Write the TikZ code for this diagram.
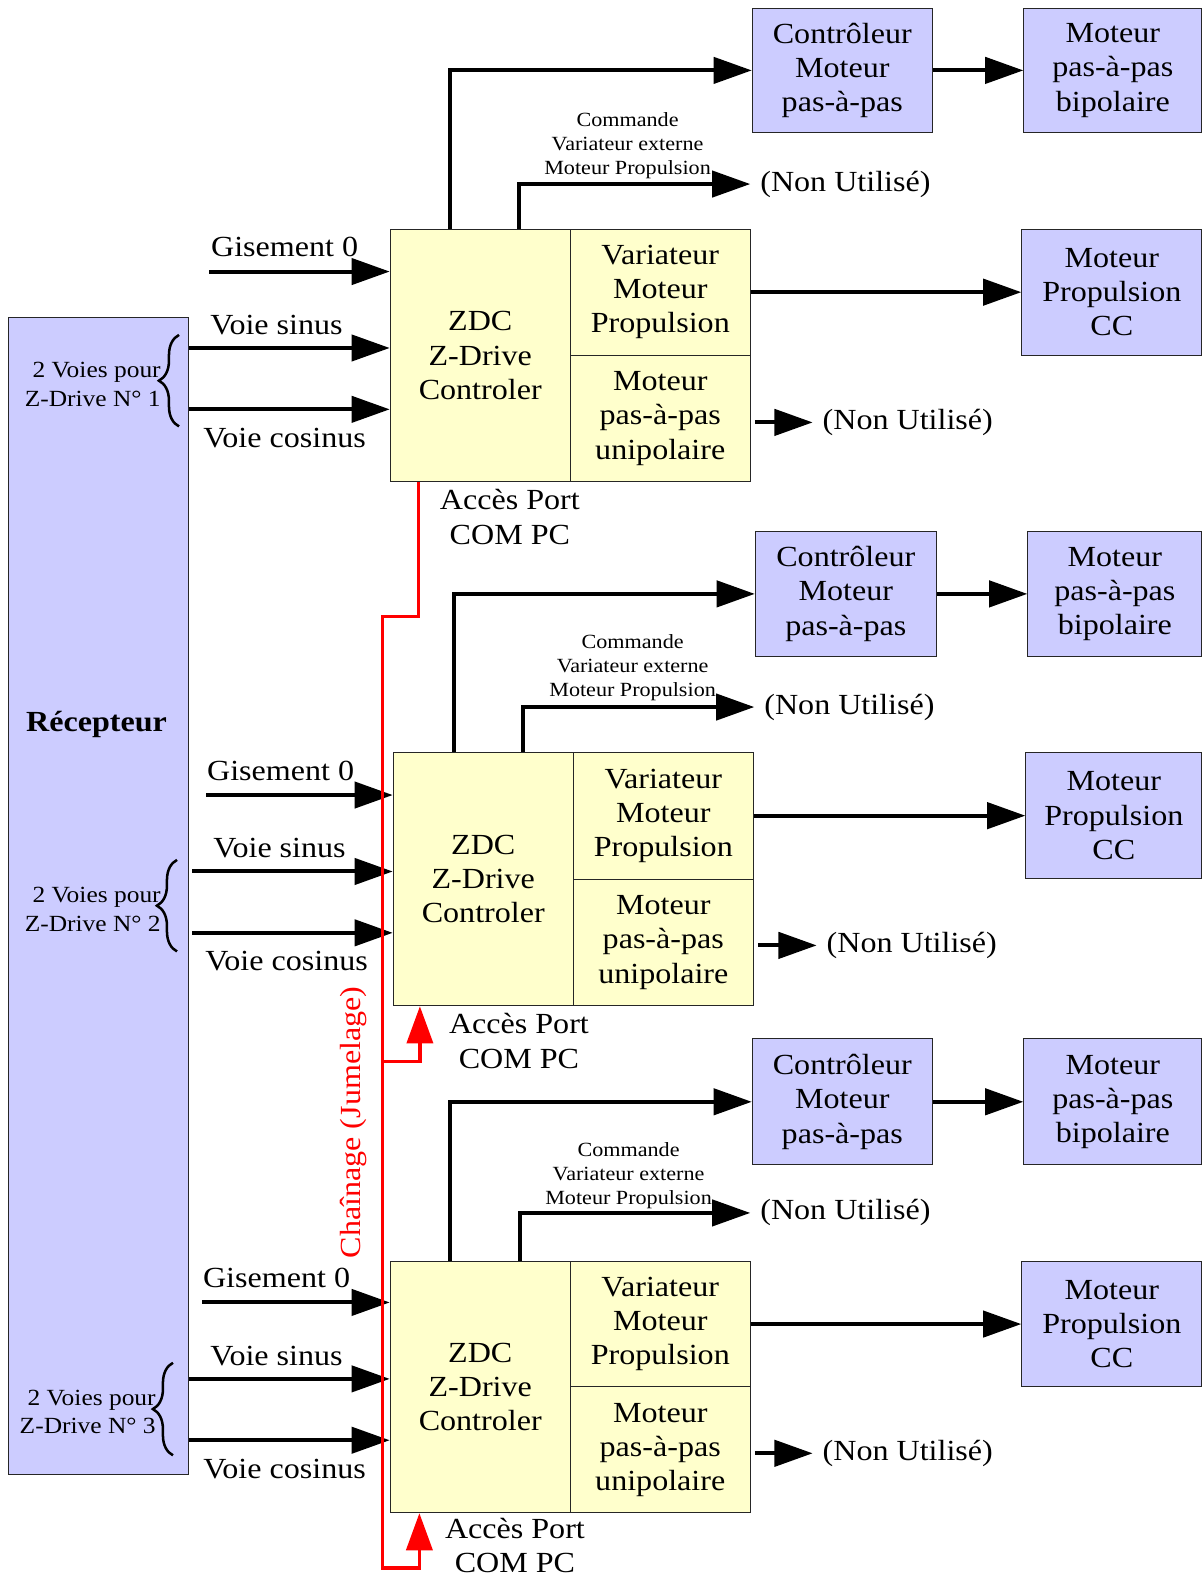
\documentclass[tikz,border=0pt]{standalone}
\usepackage{fontspec}
\setmainfont{Liberation Serif}[FakeStretch=1.1]
\usetikzlibrary{arrows.meta,decorations.pathreplacing}
\definecolor{yel}{HTML}{FFFFCC}
\definecolor{blu}{HTML}{CCCCFF}
\newcommand\fsM{\fontsize{29}{34}\selectfont}
\newcommand\fsS{\fontsize{20}{24}\selectfont}
\newcommand\fsV{\fontsize{23}{28.5}\selectfont}
\begin{document}
\begin{tikzpicture}[x=1pt,y=-1pt,
  ybox/.style={draw=black!85, line width=1pt, fill=yel, align=center, inner sep=0pt, font=\fsM},
  bbox/.style={draw=black!85, line width=1pt, fill=blu, align=center, inner sep=0pt, font=\fsM},
  lbl/.style={inner sep=0pt, align=center, font=\fsM},
  nu/.style={inner sep=0pt, outer sep=10pt, font=\fsM},
  cmd/.style={inner sep=0pt, align=center, font=\fsS},
  voies/.style={inner sep=0pt, align=right, font=\fsV},
  arr/.style={line width=4pt, -{Triangle[length=38pt,width=26pt]}},
  redarr/.style={draw=red, line width=3.5pt, -{Triangle[length=37pt,width=26pt]}},
  brc/.style={line width=2.5pt, decorate, decoration={brace, amplitude=20pt}}
]
\useasboundingbox (0,0) rectangle (1196,1568);
\fill[white] (0,0) rectangle (1196,1568);

% Recepteur
\node[bbox, minimum width=179pt, minimum height=1150pt] (rec) at (97.5,891) {};
\node[lbl, font=\fsM\bfseries] (reclab) at (96,720) {Récepteur};

% ---------------- Group 1
\node[ybox, minimum width=179pt, minimum height=251pt] (zdc1) at (477.5,353.5) {ZDC\\Z-Drive\\Controler};
\node[ybox, minimum width=179pt, minimum height=125pt] (var1) at (656.5,290.5) {Variateur\\Moteur\\Propulsion};
\node[ybox, minimum width=179pt, minimum height=126pt] (uni1) at (656.5,416) {Moteur\\pas-à-pas\\unipolaire};
\node[bbox, minimum width=179pt, minimum height=124pt] (ctrl1) at (837.5,70) {Contrôleur\\Moteur\\pas-à-pas};
\node[bbox, minimum width=177pt, minimum height=124pt] (bip1) at (1106.5,70) {Moteur\\pas-à-pas\\bipolaire};
\node[bbox, minimum width=179pt, minimum height=125pt] (prop1) at (1105.5,290.5) {Moteur\\Propulsion\\CC};
\node[nu, anchor=west] (nu1a) at (746,183) {(Non Utilisé)};
\node[nu, anchor=west] (nu1b) at (808,420) {(Non Utilisé)};
\node[cmd] (cmd1) at (624,145) {Commande\\Variateur externe\\Moteur Propulsion};
\node[lbl] (acc1) at (507,514) {Accès Port\\COM PC};
\node[lbl] (gl1) at (283,246) {Gisement 0};
\node[lbl] (sl1) at (275,323) {Voie sinus};
\node[lbl] (cl1) at (283,436) {Voie cosinus};
\node[voies, anchor=east] (vt1) at (160,382) {2 Voies pour\\Z-Drive N° 1};
\coordinate (g1) at (208,270);
\coordinate (s1) at (187,346);
\coordinate (c1) at (187,407);
\coordinate (t1) at (447,0);
\coordinate (n1) at (516,0);
\draw[arr] (g1) -- (g1 -| zdc1.west);
\draw[arr] (s1 -| rec.east) -- (s1 -| zdc1.west);
\draw[arr] (c1 -| rec.east) -- (c1 -| zdc1.west);
\draw[arr] (t1 |- zdc1.north) |- (ctrl1.west);
\draw[arr] (n1 |- zdc1.north) |- (nu1a.west);
\draw[arr] (ctrl1.east) -- (bip1.west);
\draw[arr] (var1.east) -- (prop1.west);
\draw[arr, shorten <=4pt] (uni1.east |- nu1b.west) -- (nu1b.west);
\draw[brc] (178,424) -- (178,333);

% ---------------- Group 2
\node[ybox, minimum width=179pt, minimum height=252pt] (zdc2) at (480.5,874) {ZDC\\Z-Drive\\Controler};
\node[ybox, minimum width=179pt, minimum height=126pt] (var2) at (659.5,811) {Variateur\\Moteur\\Propulsion};
\node[ybox, minimum width=179pt, minimum height=126pt] (uni2) at (659.5,937) {Moteur\\pas-à-pas\\unipolaire};
\node[bbox, minimum width=180pt, minimum height=125pt] (ctrl2) at (841,590.5) {Contrôleur\\Moteur\\pas-à-pas};
\node[bbox, minimum width=173pt, minimum height=125pt] (bip2) at (1108.5,590.5) {Moteur\\pas-à-pas\\bipolaire};
\node[bbox, minimum width=175pt, minimum height=125pt] (prop2) at (1107.5,811) {Moteur\\Propulsion\\CC};
\node[nu, anchor=west] (nu2a) at (750,703) {(Non Utilisé)};
\node[nu, anchor=west] (nu2b) at (812,940) {(Non Utilisé)};
\node[cmd] (cmd2) at (629,664) {Commande\\Variateur externe\\Moteur Propulsion};
\node[lbl] (acc2) at (516,1035) {Accès Port\\COM PC};
\node[lbl] (gl2) at (279,767) {Gisement 0};
\node[lbl] (sl2) at (278,843) {Voie sinus};
\node[lbl] (cl2) at (285,956) {Voie cosinus};
\node[voies, anchor=east] (vt2) at (160,904) {2 Voies pour\\Z-Drive N° 2};
\coordinate (g2) at (205,790.5);
\coordinate (s2) at (187,866.5);
\coordinate (c2) at (187,927.5);
\coordinate (t2) at (451,0);
\coordinate (n2) at (520,0);
\draw[arr] (g2) -- (g2 -| zdc2.west);
\draw[arr, shorten <=3.5pt] (s2 -| rec.east) -- (s2 -| zdc2.west);
\draw[arr, shorten <=3.5pt] (c2 -| rec.east) -- (c2 -| zdc2.west);
\draw[arr] (t2 |- zdc2.north) |- (ctrl2.west);
\draw[arr] (n2 |- zdc2.north) |- (nu2a.west);
\draw[arr] (ctrl2.east) -- (bip2.west);
\draw[arr] (var2.east) -- (prop2.west);
\draw[arr, shorten <=4pt] (uni2.east |- nu2b.west) -- (nu2b.west);
\draw[brc] (176,946) -- (176,855);

% ---------------- Group 3
\node[ybox, minimum width=179pt, minimum height=250pt] (zdc3) at (477.5,1379) {ZDC\\Z-Drive\\Controler};
\node[ybox, minimum width=179pt, minimum height=125pt] (var3) at (656.5,1316.5) {Variateur\\Moteur\\Propulsion};
\node[ybox, minimum width=179pt, minimum height=125pt] (uni3) at (656.5,1441.5) {Moteur\\pas-à-pas\\unipolaire};
\node[bbox, minimum width=179pt, minimum height=125pt] (ctrl3) at (837.5,1095.5) {Contrôleur\\Moteur\\pas-à-pas};
\node[bbox, minimum width=177pt, minimum height=125pt] (bip3) at (1106.5,1095.5) {Moteur\\pas-à-pas\\bipolaire};
\node[bbox, minimum width=179pt, minimum height=125pt] (prop3) at (1105.5,1316.5) {Moteur\\Propulsion\\CC};
\node[nu, anchor=west] (nu3a) at (746,1206) {(Non Utilisé)};
\node[nu, anchor=west] (nu3b) at (808,1445) {(Non Utilisé)};
\node[cmd] (cmd3) at (625,1169) {Commande\\Variateur externe\\Moteur Propulsion};
\node[lbl] (acc3) at (512,1537) {Accès Port\\COM PC};
\node[lbl] (gl3) at (275,1271) {Gisement 0};
\node[lbl] (sl3) at (275,1348) {Voie sinus};
\node[lbl] (cl3) at (283,1461) {Voie cosinus};
\node[voies, anchor=east] (vt3) at (155,1404) {2 Voies pour\\Z-Drive N° 3};
\coordinate (g3) at (201,1295);
\coordinate (s3) at (187,1371);
\coordinate (c3) at (187,1432);
\coordinate (t3) at (447,0);
\coordinate (n3) at (517,0);
\draw[arr] (g3) -- (g3 -| zdc3.west);
\draw[arr] (s3 -| rec.east) -- (s3 -| zdc3.west);
\draw[arr] (c3 -| rec.east) -- (c3 -| zdc3.west);
\draw[arr] (t3 |- zdc3.north) |- (ctrl3.west);
\draw[arr] (n3 |- zdc3.north) |- (nu3a.west);
\draw[arr] (ctrl3.east) -- (bip3.west);
\draw[arr] (var3.east) -- (prop3.west);
\draw[arr, shorten <=4pt] (uni3.east |- nu3b.west) -- (nu3b.west);
\draw[brc] (172,1447) -- (172,1355);

% ---------------- Red chaining
\coordinate (r1) at (416,613);
\coordinate (r2) at (380.5,613);
\coordinate (r3) at (380.5,1559);
\coordinate (r4) at (417,1559);
\coordinate (b1) at (380.5,1055.5);
\coordinate (b2) at (417.5,1055.5);
\draw[redarr] (r1 |- zdc1.south) -- (r1) -- (r2) -- (r3) -- (r4) -- (r4 |- zdc3.south);
\draw[redarr] (b1) -- (b2) -- (b2 |- zdc2.south);
\node[lbl, text=red, rotate=90] (chain) at (351,1116) {Chaînage (Jumelage)};
\end{tikzpicture}
\end{document}
